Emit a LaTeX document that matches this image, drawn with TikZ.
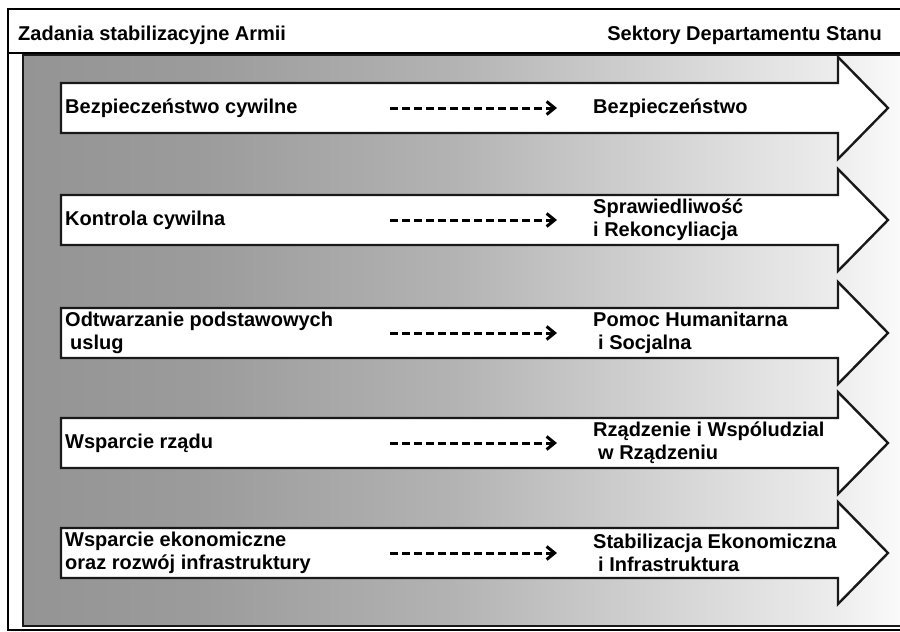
\documentclass[tikz,border=0pt]{standalone}
\usepackage{fontspec}
\setmainfont{Liberation Sans}
\usetikzlibrary{arrows.meta}
\definecolor{gA}{gray}{0.58}
\definecolor{gB}{gray}{0.61}
\definecolor{gC}{gray}{0.70}
\definecolor{gD}{gray}{0.82}
\definecolor{gE}{gray}{0.93}
\definecolor{gF}{gray}{0.98}
\definecolor{edge}{gray}{0.10}
\pgfdeclarehorizontalshading{grayfade}{100bp}{color(0bp)=(gA); color(25bp)=(gA); color(35.1bp)=(gB); color(49.3bp)=(gC); color(60.7bp)=(gD); color(71.5bp)=(gE); color(75bp)=(gF); color(100bp)=(gF)}
\tikzset{
  txt/.style={font=\bfseries\fontsize{20}{23}\selectfont, inner sep=0pt, align=left, text=black},
  lefttxt/.style={txt, anchor=west},
  righttxt/.style={txt, anchor=west},
  bigarrow/.style={draw=edge, fill=white, line width=2.4pt, line join=miter},
  dasharrow/.style={line width=3pt, dash pattern=on 8pt off 4pt, -{Straight Barb[length=8pt,width=13pt,line width=3pt]}},
  frameline/.style={draw=black, line width=2pt},
  boxline/.style={draw=edge, line width=2.6pt}
}
\begin{document}
\begin{tikzpicture}[x=1pt,y=-1pt]
\useasboundingbox (0,0) rectangle (900,632);
\clip (0,0) rectangle (900,632);
\fill[white] (0,0) rectangle (900,632);
% outer frame
\draw[frameline] (930,9) -- (7.5,9) -- (7.5,630) -- (930,630);
% header separator
\draw[frameline] (7.5,53) -- (930,53);
\node[txt, anchor=base west] (hl) at (18,40) {Zadania stabilizacyjne Armii};
\node[txt, anchor=base east] (hr) at (882,40) {Sektory Departamentu Stanu};
% gray gradient panel
\shade[shading=grayfade] (23,55) rectangle (900,626);
\draw[boxline] (930,55) -- (23,55) -- (23,626) -- (930,626);
% big arrows
\foreach \c in {108,220,333,443,553}{
  \draw[bigarrow] (61,\c-25) -- (838,\c-25) -- (838,\c-51) -- (888,\c) -- (838,\c+51) -- (838,\c+25) -- (61,\c+25) -- cycle;
}
% labels
\node[lefttxt] (L1) at (65,108) {Bezpieczeństwo cywilne};
\node[lefttxt] (L2) at (65,220) {Kontrola cywilna};
\node[lefttxt] (L3) at (65,333) {Odtwarzanie podstawowych\\\hspace*{5pt}uslug};
\node[lefttxt] (L4) at (65,443) {Wsparcie rządu};
\node[lefttxt] (L5) at (65,553) {Wsparcie ekonomiczne\\oraz rozwój infrastruktury};
\node[righttxt] (R1) at (593,108) {Bezpieczeństwo};
\node[righttxt] (R2) at (593,220) {Sprawiedliwość\\i Rekoncyliacja};
\node[righttxt] (R3) at (593,333) {Pomoc Humanitarna\\\hspace*{5pt}i Socjalna};
\node[righttxt] (R4) at (593,443) {Rządzenie i Wspóludzial\\\hspace*{5pt}w Rządzeniu};
\node[righttxt] (R5) at (593,553) {Stabilizacja Ekonomiczna\\\hspace*{5pt}i Infrastruktura};
% dashed connectors
\foreach \c [count=\i] in {108,220,333,443,553}{
  \coordinate (s\i) at (390,\c);
  \coordinate (e\i) at (557,\c);
  \draw[dasharrow] (s\i) -- (e\i);
}
\end{tikzpicture}
\end{document}
